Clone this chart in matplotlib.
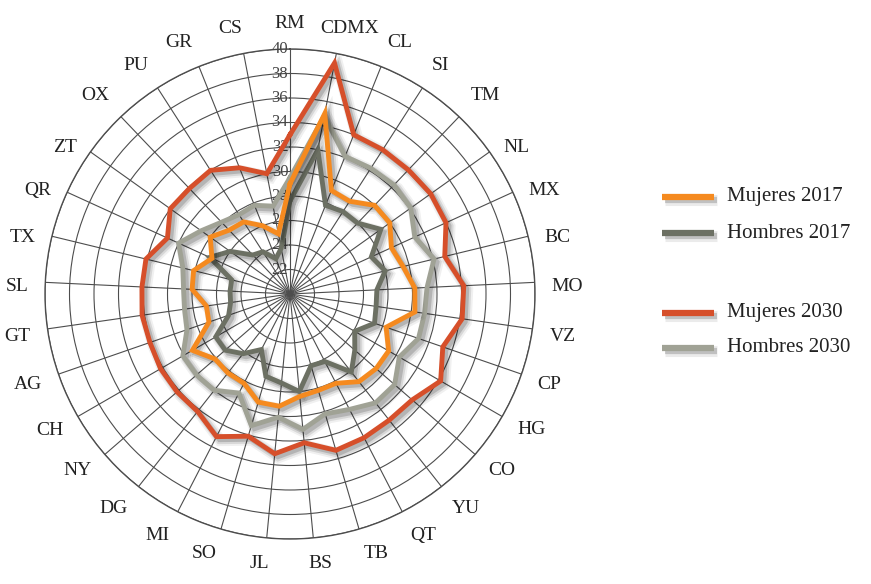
import numpy as np
import matplotlib
matplotlib.use("Agg")
import matplotlib.pyplot as plt
import matplotlib.patheffects as pe
from matplotlib.lines import Line2D
from matplotlib.transforms import offset_copy

plt.rcParams['font.family'] = ['Liberation Serif', 'DejaVu Serif']

estados = ["RM", "CDMX", "CL", "SI", "TM", "NL", "MX", "BC", "MO", "VZ", "CP",
           "HG", "CO", "YU", "QT", "TB", "BS", "JL", "SO", "MI", "DG", "NY",
           "CH", "AG", "GT", "SL", "TX", "QR", "ZT", "OX", "PU", "GR", "CS"]

mujeres_2017 = [29.0, 35.0, 29.1, 29.0, 30.0, 30.0, 29.1, 29.5, 30.2, 30.3, 28.3,
                29.3, 29.3, 29.1, 28.2, 28.2, 28.4, 29.2, 29.2, 28.2, 28.2, 28.1,
                29.2, 27.0, 26.9, 28.0, 28.1, 27.0, 28.0, 27.2, 27.0, 26.0, 25.0]
hombres_2017 = [27.6, 32.0, 27.8, 28.0, 28.0, 29.1, 27.3, 28.0, 27.1, 27.1, 27.3,
                26.1, 27.0, 28.1, 26.2, 26.1, 28.0, 27.3, 27.0, 25.1, 26.2, 27.0,
                27.0, 25.3, 24.9, 24.9, 24.9, 27.2, 26.0, 24.4, 24.1, 23.1, 23.8]
mujeres_2030 = [33.0, 39.2, 34.0, 34.0, 34.0, 34.1, 34.0, 33.0, 34.2, 34.2, 33.2,
                34.2, 33.2, 33.1, 33.2, 33.3, 32.2, 33.1, 32.1, 33.1, 32.2, 32.2,
                32.2, 32.1, 32.2, 32.1, 32.1, 31.0, 32.0, 31.9, 32.0, 31.1, 30.0]
hombres_2030 = [29.5, 34.8, 32.1, 32.2, 32.3, 32.1, 31.2, 32.1, 31.2, 31.1, 31.1,
                30.3, 31.3, 31.3, 30.6, 30.2, 31.1, 30.1, 31.2, 29.1, 30.0, 30.1,
                30.1, 28.9, 28.7, 28.7, 29.0, 30.0, 28.9, 28.1, 27.7, 27.8, 27.3]

radial_ticks = [22, 24, 26, 28, 30, 32, 34, 36, 38, 40]

series = [
    ("Mujeres 2017", mujeres_2017, "#F58A1F"),
    ("Hombres 2017", hombres_2017, "#6C7063"),
    ("Mujeres 2030", mujeres_2030, "#D64F2A"),
    ("Hombres 2030", hombres_2030, "#A0A295"),
]

GRID = "#4d4d4d"
LW = 3.5


def shadow_effects():
    # soft drop shadow, built from a few stacked offset strokes
    return [pe.SimpleLineShadow(offset=(2.6, -2.6), shadow_color="black", alpha=0.06, linewidth=LW + 5),
            pe.SimpleLineShadow(offset=(2.4, -2.4), shadow_color="black", alpha=0.10, linewidth=LW + 2.5),
            pe.SimpleLineShadow(offset=(2.2, -2.2), shadow_color="black", alpha=0.16, linewidth=LW),
            pe.Normal()]


fig = plt.figure(figsize=(8.71, 5.84), dpi=100)
ax = fig.add_axes([45 / 871, (584 - 294 - 245) / 584, 490 / 871, 490 / 584], projection="polar")
ax.set_theta_zero_location("N")
ax.set_theta_direction(-1)

angles = np.linspace(0, 2 * np.pi, len(estados), endpoint=False)
ax.set_ylim(20, 40)
ax.set_xticks(angles)
ax.set_xticklabels([])
ax.set_yticks(radial_ticks)
ax.set_yticklabels([])
ax.grid(True, color=GRID, linewidth=0.8)
ax.spines["polar"].set_color(GRID)
ax.spines["polar"].set_linewidth(1.0)

# radial scale written along the vertical spoke
shift = offset_copy(ax.transData, x=-10, y=0, units="dots")
for v in radial_ticks:
    ax.text(0, v, str(v), transform=shift, ha="center", va="center",
            fontsize=12, color="#444444", zorder=3)

# state names around the outside, aligned on the side facing the chart
label_r = 20 + 262 / 245 * 20
for ang, name in zip(angles, estados):
    s, c = np.sin(ang), np.cos(ang)
    dx = 0
    if abs(c) > 0.65 and abs(s) < 0.25:
        ha, dx = "center", s * 55
    else:
        ha = "left" if s > 0 else "right"
    if c > 0.65:
        va, dy = "bottom", 0
    elif c < -0.7:
        va, dy = "top", 0
    else:
        va, dy = "center", -5
    tr = offset_copy(ax.transData, x=dx, y=dy, units="dots")
    ax.text(ang, label_r, name, transform=tr, ha=ha, va=va, fontsize=14,
            color="#222222", clip_on=False)

# the most recent groups sit underneath
closed = np.concatenate([angles, angles[:1]])
for label, vals, color in reversed(series):
    ax.plot(closed, vals + vals[:1], color=color, linewidth=LW,
            solid_joinstyle="miter", zorder=4, path_effects=shadow_effects())

# legend drawn by hand so the two groups can be spaced apart
legend_y = [197, 233, 313, 348]
for (label, vals, color), y in zip(series, legend_y):
    yf = 1 - y / 584
    ln = Line2D([662 / 871, 714 / 871], [yf, yf], transform=fig.transFigure,
                color=color, linewidth=4.5, solid_capstyle="butt",
                path_effects=[pe.SimpleLineShadow(offset=(2.5, -2.5), shadow_color="black", alpha=0.08, linewidth=8),
                              pe.SimpleLineShadow(offset=(2.2, -2.2), shadow_color="black", alpha=0.18, linewidth=4.5),
                              pe.Normal()])
    fig.add_artist(ln)
    fig.text(727 / 871, yf, label, ha="left", va="center", fontsize=15, color="#222222")

fig.savefig("out.png", dpi=100, facecolor="white")
